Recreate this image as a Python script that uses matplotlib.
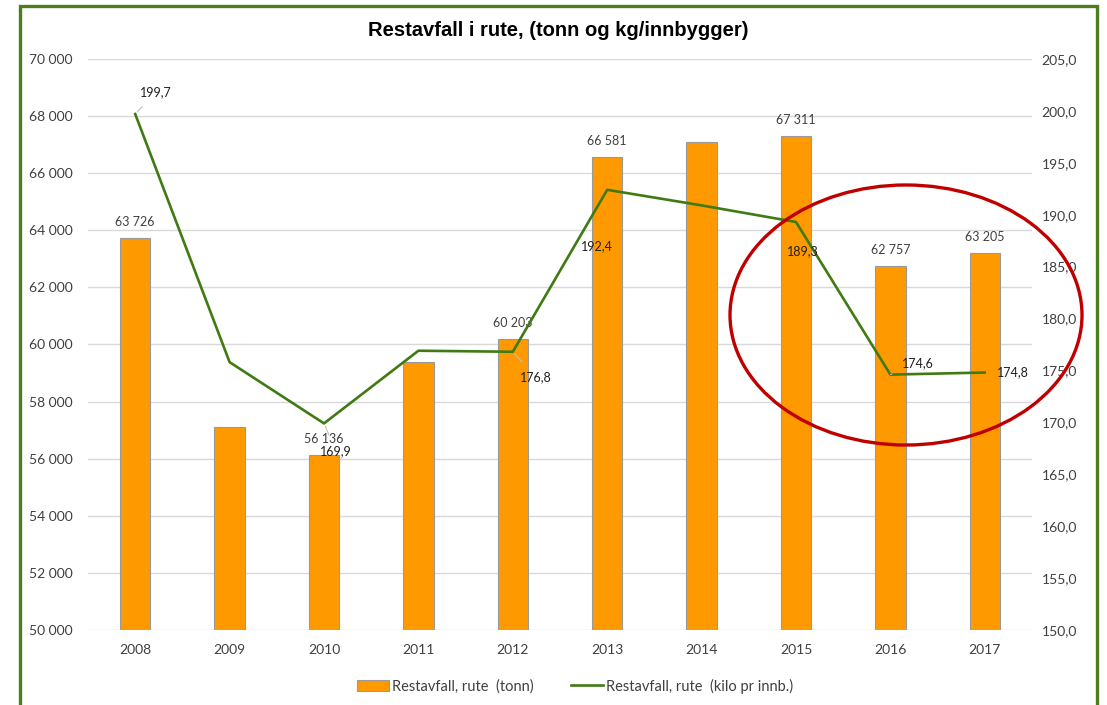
import numpy as np
import matplotlib
matplotlib.use("Agg")
import matplotlib.pyplot as plt
from matplotlib.patches import Ellipse, Rectangle, Patch
from matplotlib.lines import Line2D
from matplotlib.ticker import FuncFormatter

# Data
years = ["2008", "2009", "2010", "2011", "2012", "2013", "2014", "2015", "2016", "2017"]
tonn = [63726, 57100, 56136, 59400, 60203, 66581, 67100, 67311, 62757, 63205]
kilo = [199.7, 175.8, 169.9, 176.9, 176.8, 192.4, 190.9, 189.3, 174.6, 174.8]
tonn_labelled = [0, 2, 4, 5, 7, 8, 9]
kilo_labelled = [0, 2, 4, 5, 7, 8, 9]

BAR_COLOR = "#FF9900"
LINE_COLOR = "#3F7A12"
FRAME_COLOR = "#4E7D1E"
LABEL_COLOR = "#404040"

plt.rcParams["font.family"] = ["Lato", "DejaVu Sans"]

fig = plt.figure(figsize=(11.07, 7.05), dpi=100, facecolor="white")
ax = fig.add_axes([88 / 1107, 1 - 630 / 705, (1032 - 88) / 1107, (630 - 59) / 705])
ax2 = ax.twinx()

x = np.arange(len(years))
ax.bar(x, tonn, width=0.32, color=BAR_COLOR, edgecolor="#9a9a9a", linewidth=0.8, zorder=2)
ax.set_ylim(50000, 70000)
ax.set_yticks(np.arange(50000, 70001, 2000))
ax.yaxis.set_major_formatter(FuncFormatter(lambda v, p: f"{int(v):,}".replace(",", " ")))
ax.set_xlim(-0.5, 9.5)
ax.set_xticks(x)
ax.set_xticklabels(years)
ax.grid(axis="y", color="#d9d9d9", linewidth=1, zorder=0)
ax.set_axisbelow(True)

ax2.plot(x, kilo, color=LINE_COLOR, linewidth=1.9, zorder=3)
ax2.set_ylim(150, 205)
ax2.set_yticks(np.arange(150, 205.1, 5))
ax2.yaxis.set_major_formatter(FuncFormatter(lambda v, p: f"{v:.1f}".replace(".", ",")))

for a in (ax, ax2):
    for s in a.spines.values():
        s.set_visible(False)
    a.tick_params(length=0, labelsize=10, labelcolor="#404040")
ax.tick_params(axis="y", pad=11)
ax2.tick_params(axis="y", pad=7)
ax.tick_params(axis="x", pad=10)

# bar labels
for i in tonn_labelled:
    ax.annotate(f"{tonn[i]:,}".replace(",", " "), (x[i], tonn[i]), xytext=(0, 16),
                textcoords="offset pixels", ha="center", va="center",
                fontsize=9, color=LABEL_COLOR, zorder=5)

# line labels with offsets (pixels) and leader lines where Excel draws them
offsets = {0: (21, 22, True), 2: (12, -28, True), 4: (23, -25, True),
           5: (-10, -56, False), 7: (7, -29, False), 8: (28, 11, True), 9: (28, 0, False)}
for i in kilo_labelled:
    dx, dy, lead = offsets[i]
    kw = {}
    if lead:
        kw["arrowprops"] = dict(arrowstyle="-", color="#bfbfbf", lw=0.8, shrinkA=6, shrinkB=2)
    ax2.annotate(f"{kilo[i]:.1f}".replace(".", ","), (x[i], kilo[i]), xytext=(dx, dy),
                 textcoords="offset pixels", ha="center", va="center",
                 fontsize=9, color="#202020", zorder=6, **kw)

fig.text(558 / 1107, 1 - 30 / 705, "Restavfall i rute, (tonn og kg/innbygger)",
         ha="center", va="center", fontsize=14.5, fontweight="bold",
         family=["Liberation Sans", "DejaVu Sans"], color="#000000")

handles = [Patch(facecolor=BAR_COLOR, edgecolor="#9a9a9a", linewidth=0.8),
           Line2D([0], [0], color=LINE_COLOR, linewidth=1.9)]
fig.legend(handles, ["Restavfall, rute  (tonn)", "Restavfall, rute  (kilo pr innb.)"],
           loc="center", bbox_to_anchor=(575 / 1107, 1 - 686 / 705), ncol=2,
           frameon=False, fontsize=10.5, handlelength=2.2, handletextpad=0.2,
           columnspacing=2.6, labelcolor="#404040")

# red ellipse highlight and green frame
fig.patches.append(Ellipse((906 / 1107, 1 - 315 / 705), 352 / 1107, 260 / 705,
                           transform=fig.transFigure, fill=False,
                           edgecolor="#C00000", linewidth=2.4, zorder=10))
fig.patches.append(Rectangle((20 / 1107, -0.05), (1097 - 20) / 1107, 1.05 - 6 / 705,
                             transform=fig.transFigure, fill=False,
                             edgecolor=FRAME_COLOR, linewidth=2.4, zorder=10))

fig.savefig("out.png", dpi=100, facecolor="white")
